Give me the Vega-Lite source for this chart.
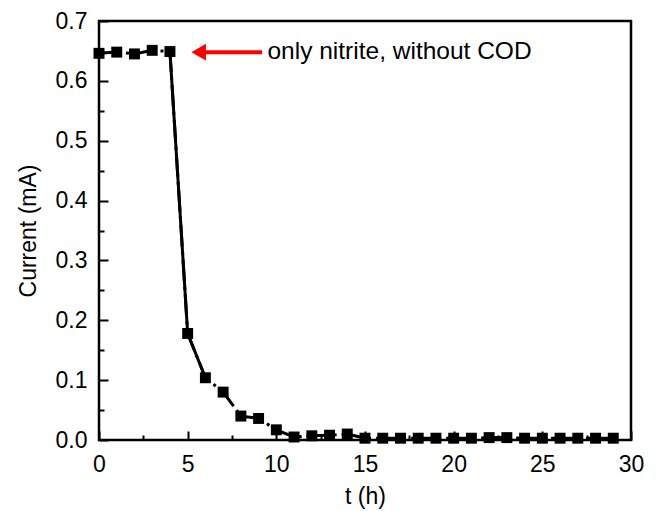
{
  "$schema": "https://vega.github.io/schema/vega-lite/v6.json",
  "autosize": "none",
  "width": 532,
  "height": 419,
  "padding": {"left": 99, "top": 21, "right": 26, "bottom": 71},
  "background": "white",
  "config": {
    "font": "Liberation Sans",
    "view": {"stroke": "black", "strokeWidth": 2.5},
    "axis": {"grid": false, "domain": false, "tickColor": "black", "tickWidth": 2, "labelColor": "black", "titleColor": "black", "labelFontSize": 23, "titleFontSize": 23, "titleFontWeight": "normal", "labelFont": "Liberation Sans", "titleFont": "Liberation Sans"}
  },
  "datasets": {
    "main": [
      {"t": 0, "current": 0.646},
      {"t": 1, "current": 0.648},
      {"t": 2, "current": 0.645},
      {"t": 3, "current": 0.651},
      {"t": 4, "current": 0.649},
      {"t": 5, "current": 0.178},
      {"t": 6, "current": 0.104},
      {"t": 7, "current": 0.080},
      {"t": 8, "current": 0.040},
      {"t": 9, "current": 0.036},
      {"t": 10, "current": 0.017},
      {"t": 11, "current": 0.005},
      {"t": 12, "current": 0.007},
      {"t": 13, "current": 0.008},
      {"t": 14, "current": 0.010},
      {"t": 15, "current": 0.003},
      {"t": 16, "current": 0.003},
      {"t": 17, "current": 0.003},
      {"t": 18, "current": 0.003},
      {"t": 19, "current": 0.003},
      {"t": 20, "current": 0.003},
      {"t": 21, "current": 0.003},
      {"t": 22, "current": 0.004},
      {"t": 23, "current": 0.004},
      {"t": 24, "current": 0.003},
      {"t": 25, "current": 0.003},
      {"t": 26, "current": 0.003},
      {"t": 27, "current": 0.003},
      {"t": 28, "current": 0.003},
      {"t": 29, "current": 0.003}
    ],
    "arrow": [{"x1": 5.62, "x2": 9.2, "y": 0.648, "label": "only nitrite, without COD", "tx": 9.5}]
  },
  "resolve": {"axis": {"x": "independent", "y": "independent"}},
  "layer": [
    {
      "data": {"name": "main"},
      "mark": {"type": "line", "color": "black", "strokeWidth": 3, "strokeDash": [22, 5, 3, 5]},
      "encoding": {
        "x": {"field": "t", "type": "quantitative", "scale": {"domain": [0, 30], "nice": false}, "title": "t (h)",
              "axis": {"orient": "bottom", "values": [0, 5, 10, 15, 20, 25, 30], "offset": -9, "tickSize": 9, "labelPadding": 13, "titlePadding": 9, "labelFlush": false, "labelFontSize": 23, "titleFontSize": 23}},
        "y": {"field": "current", "type": "quantitative", "scale": {"domain": [0, 0.7], "nice": false}, "title": "Current (mA)",
              "axis": {"orient": "left", "values": [0, 0.1, 0.2, 0.3, 0.4, 0.5, 0.6, 0.7], "format": ".1f", "offset": -9, "tickSize": 9, "labelPadding": 12, "titlePadding": 15, "labelFlush": false, "labelFontSize": 23, "titleFontSize": 23}}
      }
    },
    {
      "data": {"name": "main"},
      "transform": [{"filter": "datum.t >= 4 && datum.t <= 6"}],
      "mark": {"type": "line", "color": "black", "strokeWidth": 3},
      "encoding": {
        "x": {"field": "t", "type": "quantitative", "axis": {"orient": "bottom", "values": [2.5, 7.5, 12.5, 17.5, 22.5, 27.5], "offset": -5, "tickSize": 5, "labels": false, "title": null}},
        "y": {"field": "current", "type": "quantitative", "axis": {"orient": "left", "values": [0.05, 0.15, 0.25, 0.35, 0.45, 0.55, 0.65], "offset": -5, "tickSize": 5, "labels": false, "title": null}}
      }
    },
    {
      "data": {"name": "main"},
      "mark": {"type": "point", "shape": "square", "filled": true, "color": "black", "size": 120, "opacity": 1, "clip": false},
      "encoding": {
        "x": {"field": "t", "type": "quantitative", "axis": null},
        "y": {"field": "current", "type": "quantitative", "axis": null}
      }
    },
    {
      "data": {"name": "arrow"},
      "mark": {"type": "rule", "color": "#ff0000", "strokeWidth": 4},
      "encoding": {
        "x": {"field": "x1", "type": "quantitative", "axis": null},
        "x2": {"field": "x2"},
        "y": {"field": "y", "type": "quantitative", "axis": null}
      }
    },
    {
      "data": {"name": "arrow"},
      "mark": {"type": "point", "shape": "triangle-left", "filled": true, "color": "#ff0000", "size": 280, "opacity": 1},
      "encoding": {
        "x": {"field": "x1", "type": "quantitative", "axis": null},
        "y": {"field": "y", "type": "quantitative", "axis": null}
      }
    },
    {
      "data": {"name": "arrow"},
      "mark": {"type": "text", "align": "left", "baseline": "middle", "fontSize": 24.5, "color": "black", "font": "Liberation Sans"},
      "encoding": {
        "x": {"field": "tx", "type": "quantitative", "axis": null},
        "y": {"field": "y", "type": "quantitative", "axis": null},
        "text": {"field": "label"}
      }
    }
  ]
}
